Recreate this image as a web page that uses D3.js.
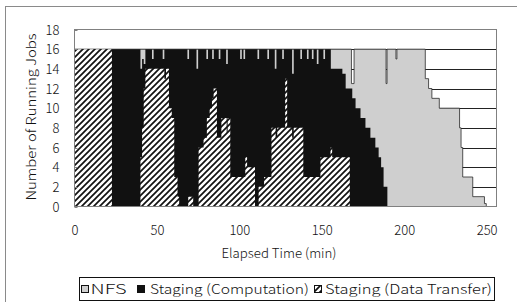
<!DOCTYPE html>
<html><head><meta charset="utf-8">
<script src="https://cdn.jsdelivr.net/npm/d3@7/dist/d3.min.js"></script>
<style>
body{margin:0;background:#fff}
svg{display:block}
text{font-family:"Noto Sans CJK JP","DejaVu Sans",sans-serif;font-weight:300;fill:#111}
</style>
</head><body>
<svg id="c" width="517" height="302"></svg>
<script>
// ---- data ----
const xTickValues = [0, 50, 100, 150, 200, 250];
const yTickValues = [0, 2, 4, 6, 8, 10, 12, 14, 16, 18];
const seriesNames = ["NFS", "Staging (Computation)", "Staging (Data Transfer)"];
const xTitle = "Elapsed Time (min)";
const yTitle = "Number of Running Jobs";

// [elapsed minute, running jobs] step points (value holds until next point)
const nfsSteps = [
  [0,16],[168,12.5],[169.6,16],[189,12.5],[189.6,16],[195,15],[195.6,16],
  [212.8,13],[214.8,12],[216.8,11],[221.3,10],[233.6,8],[234.5,6],[235.5,3],
  [241.6,1],[248.7,0.3],[249.8,0]
];
const compSteps = [
  [0,16],[40,14],[41,15],[42,14.5],[43,16],[47,15],[48,16],[53.5,15],[54.5,16],
  [68.5,15],[69.5,16],[74,14],[75,16],[80,15],[81,16],[83.5,15],[84.5,16],
  [87.5,15],[88.5,16],[92,14.5],[93,16],[100.5,15],[101.5,16],[102.5,15],[103.5,16],
  [111,15],[112,16],[117,15],[118,16],[121.5,14],[122.5,16],[126,15],[127,16],
  [132,13.5],[133,16],[137,15],[138,16],[141,15],[142,16],[144,15],[145,16],
  [147,14.5],[148,16],[151,15],[152,16],
  [155.5,14],[162.5,13.5],[164.5,12],[168.5,11],[170.5,10],[173.5,9],[176.5,8],
  [179.5,7],[182.5,6],[184.5,5],[186,4],[187.5,2],[189.8,0]
];
const xferSteps = [
  [0,16],[22.7,0],[40,5],[41,8],[42,12],[43,14],[54.5,13],[55.5,14],[57.3,10],
  [59,9],[60.5,3],[62.5,1],[63.5,0],[69,1],[72,0],[75.3,6],[78.3,7],[80.3,9],
  [82,10],[83.4,11],[84.4,12],[86.4,7],[89.1,9],[92.3,7.5],[92.9,9],[94.5,3],
  [103.6,5],[104.7,4],[109.5,0],[111.7,2],[115,3],[119.5,8],[122,7],[123,8],
  [127.8,13],[129,8],[132,7],[133,8],[138.8,3],[149.2,5],[155.3,6],[156.3,5],[167,0]
];

// ---- drawing ----
const svg = d3.select("#c");
const x = d3.scaleLinear().domain([0, 256]).range([74.5, 496.5]);
const y = d3.scaleLinear().domain([0, 18]).range([206.5, 29.5]);
const FONT = '"Noto Sans CJK JP","DejaVu Sans",sans-serif';

// outer chart frame (extends past the picture on right/bottom)
svg.append("rect").attr("x",5.5).attr("y",6.5).attr("width",540).attr("height",320)
  .attr("fill","none").attr("stroke","#8a8a8a").attr("stroke-width",1);

const defs = svg.append("defs");
const pat = defs.append("pattern").attr("id","hatch").attr("patternUnits","userSpaceOnUse")
  .attr("width",6).attr("height",6);
pat.append("rect").attr("width",6).attr("height",6).attr("fill","#fff");
pat.append("path").attr("d","M-1.5,1.5L1.5,-1.5M0,6L6,0M4.5,7.5L7.5,4.5")
  .attr("stroke","#111").attr("stroke-width",1.7);

// gridlines
svg.append("g").selectAll("line").data(yTickValues.filter(v=>v>0 && v<18)).join("line")
  .attr("x1",x.range()[0]).attr("x2",x.range()[1])
  .attr("y1",d=>Math.round(y(d))+0.5).attr("y2",d=>Math.round(y(d))+0.5)
  .attr("stroke","#222").attr("stroke-width",1);

const area = d3.area().x(d=>x(d[0])).y0(y(0)).y1(d=>y(d[1])).curve(d3.curveStepAfter);

svg.append("path").datum(nfsSteps).attr("d",area)
  .attr("fill","#cfcfcf").attr("stroke","#2a2a2a").attr("stroke-width",0.8);
svg.append("path").datum(compSteps).attr("d",area).attr("fill","#111");
svg.append("path").datum(xferSteps).attr("d",area).attr("fill","url(#hatch)");

// plot frame
svg.append("rect").attr("x",x.range()[0]).attr("y",y(18)).attr("width",x.range()[1]-x.range()[0])
  .attr("height",y(0)-y(18)).attr("fill","none").attr("stroke","#808080").attr("stroke-width",1);

// inner tick marks on y axis
svg.append("g").selectAll("line").data(yTickValues).join("line")
  .attr("x1",x.range()[0]).attr("x2",x.range()[0]+3)
  .attr("y1",d=>Math.round(y(d))+0.5).attr("y2",d=>Math.round(y(d))+0.5)
  .attr("stroke","#808080");

// axes (labels only)
const yAxis = svg.append("g").attr("transform",`translate(${x.range()[0]},0)`)
  .call(d3.axisLeft(y).tickValues(yTickValues).tickSize(0).tickPadding(15));
yAxis.select(".domain").remove();
yAxis.selectAll("text").attr("font-size",13).attr("dy","0.36em")
  .style("font-family",FONT).style("font-weight",300).attr("fill","#111");

const xAxis = svg.append("g").attr("transform",`translate(0,${y(0)})`)
  .call(d3.axisBottom(x).tickValues(xTickValues).tickSize(0));
xAxis.select(".domain").remove();
xAxis.selectAll("text").attr("font-size",13).attr("y",28).attr("dy",0)
  .style("font-family",FONT).style("font-weight",300).attr("fill","#111");

// titles
svg.append("text").attr("x",279).attr("y",258).attr("text-anchor","middle")
  .attr("font-size",13).attr("textLength",115).attr("lengthAdjust","spacingAndGlyphs").text(xTitle);
svg.append("text").attr("transform","translate(36,117) rotate(-90)").attr("text-anchor","middle")
  .attr("font-size",13).attr("textLength",167).attr("lengthAdjust","spacingAndGlyphs").text(yTitle);

// legend
const lg = svg.append("g");
lg.append("rect").attr("x",79.5).attr("y",277.5).attr("width",415).attr("height",23)
  .attr("fill","#fff").attr("stroke","#111").attr("stroke-width",1);
const fills = ["#cfcfcf","#111","url(#hatch)"];
const swX = [81, 137, 314];
const txX = [90.5, 150, 325];
const txW = [36, 159, 167];
seriesNames.forEach((n,i)=>{
  lg.append("rect").attr("x",swX[i]+0.5).attr("y",285.5).attr("width",7).attr("height",7)
    .attr("fill",fills[i]).attr("stroke","#111").attr("stroke-width",1);
  lg.append("text").attr("x",txX[i]).attr("y",294).attr("font-size",13)
    .attr("textLength",txW[i]).attr("lengthAdjust","spacingAndGlyphs").text(n);
});
</script>
</body></html>
